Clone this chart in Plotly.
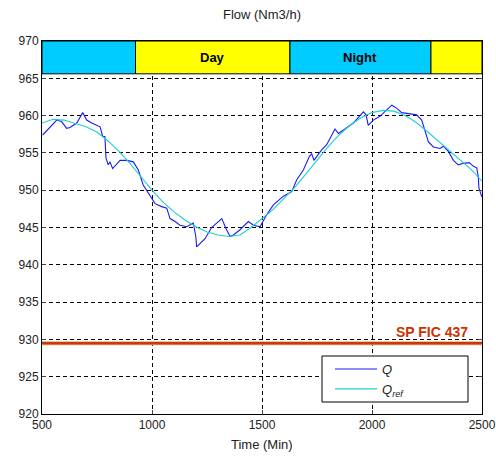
import plotly.graph_objects as go

# Measured flow Q
q_time = [503, 544, 567, 589, 612, 627, 658, 685, 703, 726, 764, 776, 786, 791, 801, 809, 821,
          855, 885, 915, 938, 960, 983, 1014, 1044, 1067, 1082, 1105, 1127, 1158, 1188, 1199,
          1203, 1241, 1271, 1317, 1339, 1355, 1370, 1400, 1438, 1461, 1491, 1521, 1551, 1597,
          1635, 1658, 1688, 1715, 1726, 1736, 1771, 1794, 1832, 1847, 1877, 1915, 1961, 1973,
          1983, 2006, 2036, 2059, 2090, 2112, 2135, 2158, 2203, 2226, 2241, 2256, 2279, 2309,
          2324, 2347, 2370, 2392, 2415, 2442, 2461, 2476, 2483, 2486, 2499]
q_flow = [957.4, 958.7, 959.4, 959.2, 958.3, 958.4, 959.0, 960.4, 959.4, 959.0, 958.5, 957.2,
          957.2, 954.3, 953.4, 953.8, 952.9, 954.0, 954.0, 953.8, 952.7, 950.7, 949.6, 948.2,
          947.8, 947.6, 946.2, 945.8, 945.3, 945.1, 945.6, 943.8, 942.4, 943.5, 945.0, 946.2,
          944.7, 943.8, 944.0, 944.7, 945.8, 945.3, 945.1, 946.7, 948.0, 949.2, 949.8, 951.4,
          952.7, 954.5, 954.9, 954.0, 955.4, 956.1, 958.2, 957.6, 958.2, 959.0, 960.5, 960.1,
          958.7, 959.4, 959.9, 960.5, 961.4, 961.0, 960.4, 960.3, 960.1, 959.4, 958.1, 956.5,
          955.8, 955.6, 955.9, 955.2, 954.0, 953.4, 953.6, 953.7, 953.2, 953.0, 951.8, 950.3,
          949.1]

# Reference flow Q_ref
ref_time = list(range(500, 2501, 50))
ref_flow = [959.0, 959.5, 959.4, 959.0, 958.5, 957.8, 956.6, 955.2, 953.6, 951.8, 950.0,
            948.4, 947.1, 946.0, 945.1, 944.4, 944.0, 943.8, 944.0, 945.0, 946.2, 947.4,
            948.9, 950.4, 952.2, 954.0, 955.8, 957.4, 958.7, 959.7, 960.4, 960.7, 960.6,
            960.0, 959.1, 957.9, 956.6, 955.3, 954.1, 952.8, 951.2]

# Set point
sp_value = 929.5
sp_label = "SP FIC 437"

# Day / Night band
band_edges = [500, 925, 1627, 2268, 2500]
band_labels = ["", "Day", "Night", ""]
band_colors = ["#00ccff", "#ffff00", "#00ccff", "#ffff00"]
band_bottom = 965.6
band_top = 970

x_ticks = [500, 1000, 1500, 2000, 2500]
y_ticks = [920, 925, 930, 935, 940, 945, 950, 955, 960, 965, 970]

FONT = "Liberation Sans, Arial, sans-serif"
DASH = "4px,3px"

fig = go.Figure()

fig.add_trace(go.Scatter(x=[band_edges[0], band_edges[-1]], y=[sp_value, sp_value], mode="lines",
                         line=dict(color="#f2a884", width=4), showlegend=False, hoverinfo="skip"))
fig.add_trace(go.Scatter(x=[band_edges[0], band_edges[-1]], y=[sp_value, sp_value], mode="lines",
                         line=dict(color="#c43c08", width=2.5), showlegend=False, hoverinfo="skip"))
fig.add_trace(go.Scatter(x=q_time, y=q_flow, mode="lines", name="<i>Q</i>",
                         line=dict(color="#1a1aff", width=1.1)))
fig.add_trace(go.Scatter(x=ref_time, y=ref_flow, mode="lines", name="<i>Q<sub>ref</sub></i>",
                         line=dict(color="#1fcfcf", width=1.1)))

shapes = []
for i in range(len(band_labels)):
    shapes.append(dict(type="rect", xref="x", yref="y", x0=band_edges[i], x1=band_edges[i + 1],
                       y0=band_bottom, y1=band_top, fillcolor=band_colors[i],
                       line=dict(color="black", width=1), layer="above"))
# legend box
shapes.append(dict(type="rect", xref="paper", yref="paper",
                   x0=(322 - 42) / 440, x1=(468 - 42) / 440,
                   y0=(414 - 402) / 373, y1=(414 - 356) / 373,
                   fillcolor="white", line=dict(color="black", width=1), layer="above"))

annotations = []
for i, lab in enumerate(band_labels):
    if lab:
        annotations.append(dict(x=(band_edges[i] + band_edges[i + 1]) / 2, y=(band_bottom + band_top) / 2,
                                xref="x", yref="y", text="<b>%s</b>" % lab, showarrow=False,
                                font=dict(family=FONT, size=13, color="black")))
annotations.append(dict(x=2445, y=sp_value, xref="x", yref="y", text="<b>%s</b>" % sp_label,
                        showarrow=False, xanchor="right", yanchor="bottom", yshift=1,
                        font=dict(family=FONT, size=14, color="#cc3300")))
annotations.append(dict(x=0.5, y=-(444 - 414) / 373, xref="paper", yref="paper", text="Time (Min)",
                        showarrow=False, yanchor="middle",
                        font=dict(family=FONT, size=13, color="#222")))

fig.update_layout(
    width=496, height=458,
    margin=dict(l=42, r=14, t=41, b=44, autoexpand=False),
    paper_bgcolor="white", plot_bgcolor="white",
    title=dict(text="Flow (Nm3/h)", x=(42 + 482) / 2 / 496, xanchor="center",
               y=1 - 14 / 458, yanchor="middle", yref="container",
               font=dict(family=FONT, size=13, color="#222")),
    font=dict(family=FONT, size=12, color="#222"),
    shapes=shapes, annotations=annotations,
    legend=dict(x=(330 - 42) / 440, y=(414 - 354) / 373, xanchor="left", yanchor="top",
                bgcolor="rgba(0,0,0,0)", borderwidth=0, tracegroupgap=0, itemwidth=42,
                font=dict(family=FONT, size=13, color="#222")),
    showlegend=True,
)
fig.update_xaxes(range=[500, 2500], tickvals=x_ticks, ticks="inside", ticklen=4,
                 showline=True, linecolor="black", linewidth=1, mirror="ticks", automargin=False,
                 showgrid=True, gridcolor="black", griddash=DASH, gridwidth=1,
                 zeroline=False, tickfont=dict(family=FONT, size=12, color="#222"))
fig.update_yaxes(range=[920, 970], tickvals=y_ticks, ticks="inside", ticklen=4,
                 showline=True, linecolor="black", linewidth=1, mirror="ticks", automargin=False,
                 showgrid=True, gridcolor="black", griddash=DASH, gridwidth=1,
                 zeroline=False, tickfont=dict(family=FONT, size=12, color="#222"))

fig.write_html("out.html")
